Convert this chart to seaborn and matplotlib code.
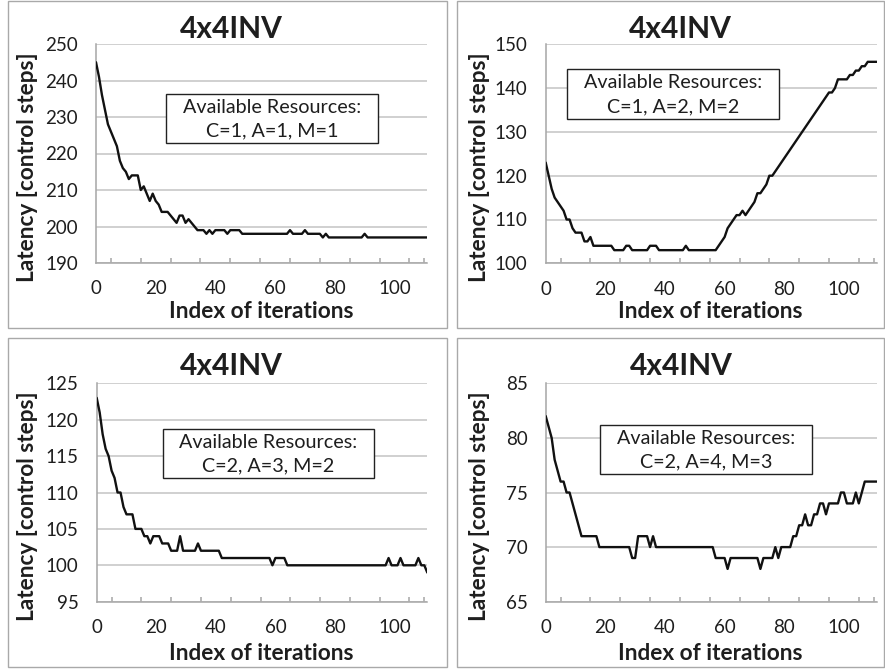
import numpy as np
import pandas as pd
import matplotlib
matplotlib.use("Agg")
import matplotlib.pyplot as plt
import seaborn as sns
from matplotlib.patches import Rectangle

# Latency of the 4x4INV schedule over the optimisation iterations,
# one series per resource configuration (C, A, M units).
iterations = list(range(112))

latency_c1_a1_m1 = [
    245, 241, 236, 232, 228, 226, 224, 222, 218, 216,
    215, 213, 214, 214, 214, 210, 211, 209, 207, 209,
    207, 206, 204, 204, 204, 203, 202, 201, 203, 203,
    201, 202, 201, 200, 199, 199, 199, 198, 199, 198,
    199, 199, 199, 199, 198, 199, 199, 199, 199, 198,
    198, 198, 198, 198, 198, 198, 198, 198, 198, 198,
    198, 198, 198, 198, 198, 199, 198, 198, 198, 198,
    199, 198, 198, 198, 198, 198, 197, 198, 197, 197,
    197, 197, 197, 197, 197, 197, 197, 197, 197, 197,
    198, 197, 197, 197, 197, 197, 197, 197, 197, 197,
    197, 197, 197, 197, 197, 197, 197, 197, 197, 197,
    197, 197,
]

latency_c1_a2_m2 = [
    123, 120, 117, 115, 114, 113, 112, 110, 110, 108,
    107, 107, 107, 105, 105, 106, 104, 104, 104, 104,
    104, 104, 104, 103, 103, 103, 103, 104, 104, 103,
    103, 103, 103, 103, 103, 104, 104, 104, 103, 103,
    103, 103, 103, 103, 103, 103, 103, 104, 103, 103,
    103, 103, 103, 103, 103, 103, 103, 103, 104, 105,
    106, 108, 109, 110, 111, 111, 112, 111, 112, 113,
    114, 116, 116, 117, 118, 120, 120, 121, 122, 123,
    124, 125, 126, 127, 128, 129, 130, 131, 132, 133,
    134, 135, 136, 137, 138, 139, 139, 140, 142, 142,
    142, 142, 143, 143, 144, 144, 145, 145, 146, 146,
    146, 146,
]

latency_c2_a3_m2 = [
    123, 121, 118, 116, 115, 113, 112, 110, 110, 108,
    107, 107, 107, 105, 105, 105, 104, 104, 103, 104,
    104, 104, 103, 103, 103, 102, 102, 102, 104, 102,
    102, 102, 102, 102, 103, 102, 102, 102, 102, 102,
    102, 102, 101, 101, 101, 101, 101, 101, 101, 101,
    101, 101, 101, 101, 101, 101, 101, 101, 101, 100,
    101, 101, 101, 101, 100, 100, 100, 100, 100, 100,
    100, 100, 100, 100, 100, 100, 100, 100, 100, 100,
    100, 100, 100, 100, 100, 100, 100, 100, 100, 100,
    100, 100, 100, 100, 100, 100, 100, 100, 101, 100,
    100, 100, 101, 100, 100, 100, 100, 100, 101, 100,
    100, 99,
]

latency_c2_a4_m3 = [
    82, 81, 80, 78, 77, 76, 76, 75, 75, 74,
    73, 72, 71, 71, 71, 71, 71, 71, 70, 70,
    70, 70, 70, 70, 70, 70, 70, 70, 70, 69,
    69, 71, 71, 71, 71, 70, 71, 70, 70, 70,
    70, 70, 70, 70, 70, 70, 70, 70, 70, 70,
    70, 70, 70, 70, 70, 70, 70, 69, 69, 69,
    69, 68, 69, 69, 69, 69, 69, 69, 69, 69,
    69, 69, 68, 69, 69, 69, 69, 70, 69, 70,
    70, 70, 70, 71, 71, 72, 72, 73, 72, 72,
    73, 73, 74, 74, 73, 74, 74, 74, 74, 75,
    75, 74, 74, 74, 75, 74, 75, 76, 76, 76,
    76, 76,
]

resource_labels = ["C=1, A=1, M=1", "C=1, A=2, M=2", "C=2, A=3, M=2", "C=2, A=4, M=3"]
y_ticks = [[190, 200, 210, 220, 230, 240, 250],
           [100, 110, 120, 130, 140, 150],
           [95, 100, 105, 110, 115, 120, 125],
           [65, 70, 75, 80, 85]]
x_ticks = [0, 20, 40, 60, 80, 100]
title = "4x4INV"
x_title = "Index of iterations"
y_title = "Latency [control steps]"
series = [latency_c1_a1_m1, latency_c1_a2_m2, latency_c2_a3_m2, latency_c2_a4_m3]

sns.set_theme(style="white")
plt.rcParams["font.family"] = ["Lato", "DejaVu Sans"]

W, H = 885, 670
fig = plt.figure(figsize=(W / 100, H / 100), dpi=100)
fig.patch.set_facecolor("white")


def fx(px):
    return px / W


def fy(py):
    return 1 - py / H


# layout of each chart, in pixels: frame box, plot area, text anchors, legend box (axes fraction)
layouts = [
    dict(frame=(8, 1, 447, 328), plot=(96, 44, 427.3, 263), title_x=231, title_y=38,
         ylab=(28, 167), xlab=(261, 318), box=(0.2115, 0.548, 0.852, 0.772)),
    dict(frame=(457, 1, 884, 328), plot=(545.7, 44.3, 876.7, 263.3), title_x=680, title_y=38,
         ylab=(479, 167), xlab=(710.7, 318), box=(0.064, 0.659, 0.705, 0.887)),
    dict(frame=(8, 338, 447, 667), plot=(96.7, 383.3, 427.3, 601.7), title_x=231, title_y=375,
         ylab=(28, 506), xlab=(261, 660), box=(0.20, 0.565, 0.839, 0.789)),
    dict(frame=(457, 338, 884, 667), plot=(545.7, 383.3, 876.7, 601.7), title_x=681, title_y=375,
         ylab=(479, 506), xlab=(710.5, 660), box=(0.164, 0.585, 0.804, 0.809)),
]

grid_color = "#c4c4c4"
axis_color = "#a6a6a6"
text_color = "#1e1e1e"

for values, yt, res, lay in zip(series, y_ticks, resource_labels, layouts):
    x0, y0, x1, y1 = lay["frame"]
    fig.add_artist(Rectangle((fx(x0), fy(y1)), (x1 - x0) / W, (y1 - y0) / H,
                             transform=fig.transFigure, fill=False,
                             ec="#a9a9a9", lw=1.0))

    l, t, r, b = lay["plot"]
    ax = fig.add_axes([fx(l), fy(b), (r - l) / W, (b - t) / H])
    df = pd.DataFrame({"iteration": iterations, "latency": values})
    sns.lineplot(data=df, x="iteration", y="latency", ax=ax, color="#111111",
                 linewidth=1.7, zorder=3)

    ax.set_xlim(0, 111)
    ax.set_ylim(yt[0], yt[-1])
    ax.set_yticks(yt)
    ax.set_xticks(x_ticks)
    ax.set_xticks([5, 15, 25, 35, 45, 55, 65, 75, 85, 95, 105, 110], minor=True)
    ax.set_xlabel("")
    ax.set_ylabel("")
    ax.yaxis.grid(True, color=grid_color, linewidth=1.1)
    ax.xaxis.grid(False)
    for side in ("top", "right"):
        ax.spines[side].set_visible(False)
    for side in ("left", "bottom"):
        ax.spines[side].set_color(axis_color)
        ax.spines[side].set_linewidth(1.1)
    ax.tick_params(axis="y", which="major", direction="out", length=5, width=1.1,
                   color=axis_color, pad=8, labelsize=13.5, labelcolor=text_color)
    ax.tick_params(axis="x", which="major", length=0, pad=12.5, labelsize=13.5,
                   labelcolor=text_color)
    ax.tick_params(axis="x", which="minor", direction="in", length=3.5, width=1.1,
                   color=axis_color, bottom=True)

    bx0, by0, bx1, by1 = lay["box"]
    ax.add_patch(Rectangle((bx0, by0), bx1 - bx0, by1 - by0, transform=ax.transAxes,
                           fill=True, fc="white", ec="#222222", lw=1.0, zorder=5))
    cx = (bx0 + bx1) / 2
    hgt = by1 - by0
    ax.text(cx, by1 - 0.27 * hgt, "Available Resources:", transform=ax.transAxes,
            ha="center", va="center", fontsize=14.2, color=text_color, zorder=6)
    ax.text(cx, by1 - 0.75 * hgt, res, transform=ax.transAxes,
            ha="center", va="center", fontsize=14.2, color=text_color, zorder=6)

    fig.text(fx(lay["title_x"]), fy(lay["title_y"]), title, ha="center", va="baseline",
             fontsize=21.5, fontweight="bold", color=text_color)
    fig.text(fx(lay["ylab"][0]), fy(lay["ylab"][1]), y_title, rotation=90,
             ha="center", va="center", fontsize=16.3, fontweight="bold", color=text_color)
    fig.text(fx(lay["xlab"][0]), fy(lay["xlab"][1]), x_title, ha="center", va="baseline",
             fontsize=16.3, fontweight="bold", color=text_color)

fig.savefig("out.png", dpi=100, facecolor="white")
